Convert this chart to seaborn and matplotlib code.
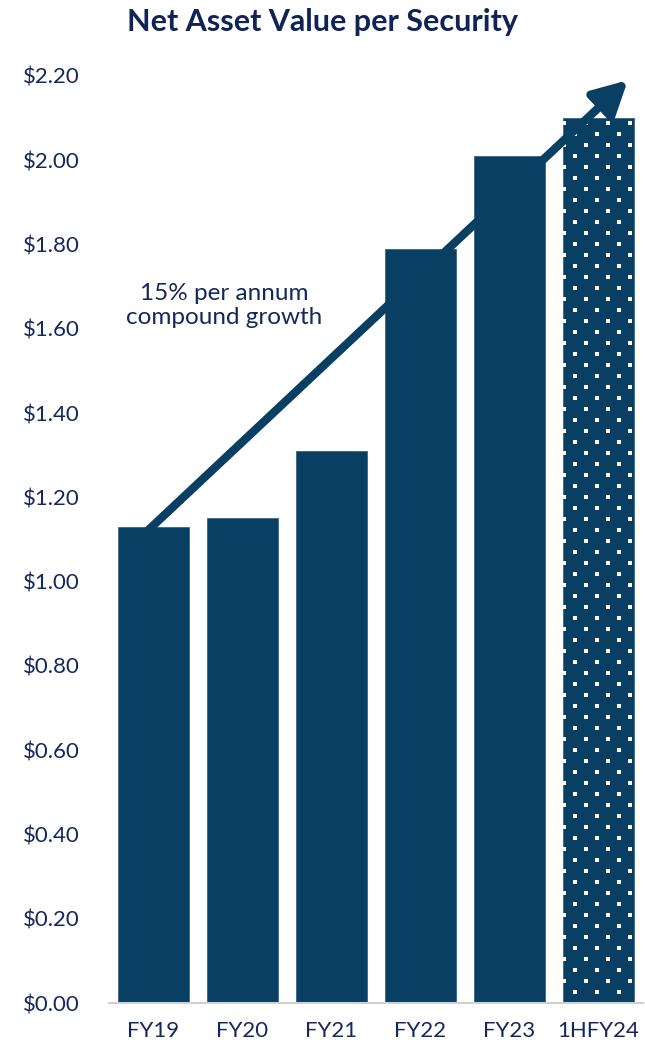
import matplotlib
matplotlib.use("Agg")
import matplotlib.pyplot as plt
import seaborn as sns
import pandas as pd
import numpy as np

# Net asset value per security by period
periods = ["FY19", "FY20", "FY21", "FY22", "FY23", "1HFY24"]
nav = [1.13, 1.15, 1.31, 1.79, 2.01, 2.10]
y_ticks = [0.0, 0.2, 0.4, 0.6, 0.8, 1.0, 1.2, 1.4, 1.6, 1.8, 2.0, 2.2]
y_tick_labels = ["$0.00", "$0.20", "$0.40", "$0.60", "$0.80", "$1.00",
                 "$1.20", "$1.40", "$1.60", "$1.80", "$2.00", "$2.20"]

sns.set_theme(style="white")
plt.rcParams["font.family"] = ["Lato", "DejaVu Sans"]

BAR = "#083f62"
TEXT = "#14285c"

df = pd.DataFrame({"period": periods, "nav": nav})

fig = plt.figure(figsize=(6.45, 10.49), dpi=100)
ax = fig.add_axes([109 / 645, 1 - 1003 / 1049, 534 / 645, (1003 - 76) / 1049])

sns.barplot(data=df, x="period", y="nav", color=BAR, saturation=1,
            width=0.8, ax=ax, edgecolor="#3a6585", linewidth=0.6)

ax.set_xlim(-0.5, 5.5)
ax.set_ylim(0, 2.2)

# half-year result shown with a staggered white dot texture
last = ax.patches[-1]
x0, w, h = last.get_x(), last.get_width(), last.get_height()
px_x = 1.0 / 89.0          # data units per pixel horizontally
px_y = 2.2 / (1003 - 76)   # data units per pixel vertically
col_step, row_step = 22 * px_x, 11 * px_y
rows = np.arange(h - 5 * px_y, 2 * px_y, -row_step)
dx, dy = [], []
for i, ry in enumerate(rows):
    start = x0 + 1.5 * px_x + (col_step / 2 if i % 2 else 0)
    for cx in np.arange(start, x0 + w - 1 * px_x, col_step):
        dx.append(cx)
        dy.append(ry)
ax.scatter(dx, dy, s=5, marker="s", color="white", linewidths=0, zorder=3)

ax.set_yticks(y_ticks)
ax.set_yticklabels(y_tick_labels)
ax.set_xlabel("")
ax.set_ylabel("")
ax.tick_params(axis="y", labelsize=16, colors=TEXT, length=0, pad=21)
ax.tick_params(axis="x", labelsize=16, colors=TEXT, length=0, pad=13)

for side in ["left", "right", "top"]:
    ax.spines[side].set_visible(False)
ax.spines["bottom"].set_color("#d0d0d0")
ax.spines["bottom"].set_linewidth(1.5)

# compound growth arrow
ax.annotate("", xy=(5.33, 2.19), xytext=(-0.07, 1.12),
            arrowprops=dict(arrowstyle="-|>,head_length=1.7,head_width=0.9",
                            color=BAR, lw=6, shrinkA=0, shrinkB=0),
            annotation_clip=False, zorder=5)

ax.text(0.79, 1.656, "15% per annum\ncompound growth", ha="center", va="center",
        fontsize=17.5, color=TEXT, linespacing=1.2)

fig.text(0.5, 1 - 22 / 1049, "Net Asset Value per Security", ha="center",
         va="center", fontsize=22, fontweight="bold", color="#0f2358")

fig.savefig("out.png", dpi=100)
